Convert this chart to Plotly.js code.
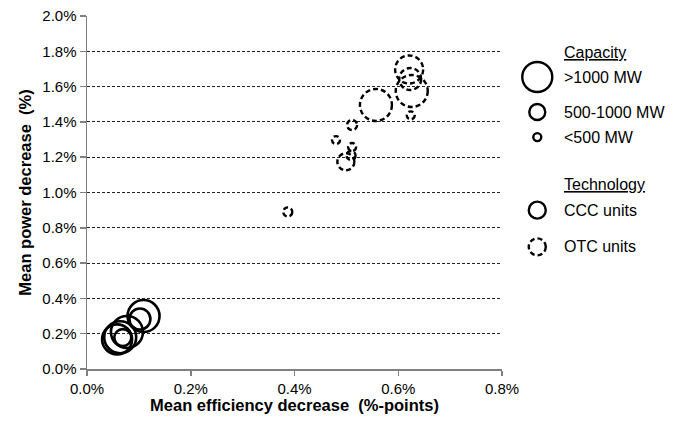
<!DOCTYPE html>
<html>
<head>
<meta charset="utf-8">
<script src="https://cdn.plot.ly/plotly-3.0.1.min.js"></script>
<style>
  html, body { margin: 0; padding: 0; background: #fff; }
  #plot { width: 684px; height: 423px; }
</style>
</head>
<body>
<div id="plot"></div>
<script>
// CCC units (solid circles): efficiency decrease (%-points), power decrease (%), marker diameter
let cccEff   = [0.109, 0.102, 0.077, 0.064, 0.058, 0.069];
let cccPower = [0.300, 0.283, 0.210, 0.180, 0.168, 0.178];
let cccSize  = [32, 21, 32, 32, 30, 17];

// OTC units (dashed circles)
let otcEff   = [0.621, 0.623, 0.626, 0.624, 0.557, 0.511, 0.480, 0.511, 0.499, 0.509, 0.387];
let otcPower = [1.697, 1.643, 1.575, 1.437, 1.496, 1.382, 1.297, 1.258, 1.174, 1.210, 0.890];
let otcSize  = [28, 22, 32, 8, 32, 10, 8, 8, 17, 9, 9];

// legend entries
let capLabels = ['>1000 MW', '500-1000 MW', '<500 MW'];
let capSizes  = [30, 16, 8];
let techLabels = ['CCC units', 'OTC units'];

let font = 'Arial, "Liberation Sans", sans-serif';
let dashed = '5px,3px';

function circleShape(xref, yref, x, y, d, dash) {
    let r = d / 2;
    return {
        type: 'circle',
        xref: xref, yref: yref,
        xsizemode: 'pixel', ysizemode: 'pixel',
        xanchor: x, yanchor: y,
        x0: -r, x1: r, y0: -r, y1: r,
        line: {color: '#000', width: 2.4, dash: dash}
    };
}

let shapes = [];
otcEff.forEach((x, i) => {
    shapes.push(circleShape('x', 'y', x, otcPower[i], otcSize[i], dashed));
});

// custom legend on the right
let legX = 1.085, txtX = 1.145;
let capY = [0.827, 0.728, 0.657];
let techY = [0.450, 0.346];
capSizes.forEach((s, i) => {
    shapes.push(circleShape('paper', 'paper', legX, capY[i], s, 'solid'));
});
shapes.push(circleShape('paper', 'paper', legX, techY[0], 17, 'solid'));
shapes.push(circleShape('paper', 'paper', legX, techY[1], 17, dashed));

let legFont = {family: font, size: 16, color: '#000'};
let annotations = [];
annotations.push({xref: 'paper', yref: 'paper', x: txtX, y: 0.898, xanchor: 'left', yanchor: 'middle',
    text: '<u>Capacity</u>', showarrow: false, font: legFont});
capLabels.forEach((t, i) => {
    annotations.push({xref: 'paper', yref: 'paper', x: txtX, y: capY[i], xanchor: 'left', yanchor: 'middle',
        text: t, showarrow: false, font: legFont});
});
annotations.push({xref: 'paper', yref: 'paper', x: txtX, y: 0.524, xanchor: 'left', yanchor: 'middle',
    text: '<u>Technology</u>', showarrow: false, font: legFont});
techLabels.forEach((t, i) => {
    annotations.push({xref: 'paper', yref: 'paper', x: txtX, y: techY[i], xanchor: 'left', yanchor: 'middle',
        text: t, showarrow: false, font: legFont});
});

var data = [{
    x: cccEff,
    y: cccPower,
    mode: 'markers',
    type: 'scatter',
    marker: {
        symbol: 'circle-open',
        size: cccSize,
        color: '#000',
        opacity: 1,
        line: {width: 2.6, color: '#000'}
    },
    showlegend: false,
    hoverinfo: 'skip'
}];

var layout = {
    width: 684,
    height: 423,
    margin: {l: 87, r: 182, t: 16, b: 54, pad: 0},
    paper_bgcolor: '#fff',
    plot_bgcolor: '#fff',
    font: {family: font, size: 15, color: '#000'},
    showlegend: false,
    xaxis: {
        range: [0, 0.8],
        tickvals: [0, 0.2, 0.4, 0.6, 0.8],
        ticktext: ['0.0%', '0.2%', '0.4%', '0.6%', '0.8%'],
        showgrid: false,
        zeroline: false,
        showline: true,
        linecolor: '#808080',
        linewidth: 1.5,
        ticks: 'outside',
        ticklen: 5,
        tickwidth: 1.5,
        tickcolor: '#808080',
        tickfont: {family: font, size: 15, color: '#000'},
        title: {text: '<b>Mean efficiency decrease  (%-points)</b>', standoff: 4,
            font: {family: font, size: 16.5, color: '#000'}}
    },
    yaxis: {
        range: [0, 2.0],
        tickvals: [0, 0.2, 0.4, 0.6, 0.8, 1.0, 1.2, 1.4, 1.6, 1.8, 2.0],
        ticktext: ['0.0%', '0.2%', '0.4%', '0.6%', '0.8%', '1.0%', '1.2%', '1.4%', '1.6%', '1.8%', '2.0%'],
        showgrid: true,
        gridcolor: '#222',
        gridwidth: 1,
        griddash: '3px,2px',
        zeroline: false,
        showline: true,
        linecolor: '#808080',
        linewidth: 1.5,
        ticks: 'outside',
        ticklen: 6,
        tickwidth: 1.5,
        tickcolor: '#808080',
        tickfont: {family: font, size: 15, color: '#000'},
        title: {text: '<b>Mean power decrease  (%)</b>', standoff: 6,
            font: {family: font, size: 16.5, color: '#000'}}
    },
    shapes: shapes,
    annotations: annotations
};

Plotly.newPlot('plot', data, layout, {displayModeBar: false, staticPlot: true});
</script>
</body>
</html>
